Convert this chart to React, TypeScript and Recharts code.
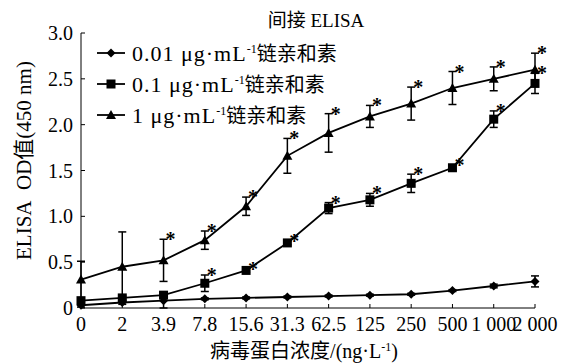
import React from 'react';
import { LineChart, Line, XAxis, YAxis, ErrorBar, Legend, LabelList } from 'recharts';

const categories = ['0', '2', '3.9', '7.8', '15.6', '31.3', '62.5', '125', '250', '500', '1 000', '2 000'];

const s001 = [0.03, 0.06, 0.08, 0.10, 0.11, 0.12, 0.13, 0.14, 0.15, 0.19, 0.24, 0.29];
const s001Err = [0.02, 0.02, 0.08, 0.01, 0.01, 0.01, 0.01, 0.01, 0.01, 0.01, 0.02, 0.06];

const s01 = [0.08, 0.11, 0.14, 0.27, 0.41, 0.71, 1.09, 1.18, 1.36, 1.53, 2.06, 2.45];
const s01Err = [0.02, 0.02, 0.03, 0.09, 0.02, 0.02, 0.06, 0.07, 0.10, 0.03, 0.09, 0.11];
const s01Star = [false, false, false, true, true, true, true, true, true, true, true, true];

const s1 = [0.31, 0.45, 0.52, 0.74, 1.11, 1.66, 1.91, 2.09, 2.23, 2.40, 2.50, 2.60];
const s1Err = [0.20, 0.38, 0.23, 0.10, 0.10, 0.19, 0.21, 0.12, 0.18, 0.18, 0.13, 0.18];
const s1Star = [false, false, true, true, true, true, true, true, true, true, true, true];

const yTicks = [0, 0.5, 1, 1.5, 2, 2.5, 3];
const yTickLabels = ['0', '0.5', '1.0', '1.5', '2.0', '2.5', '3.0'];

const FONT = "'Liberation Serif', 'Times New Roman', 'Noto Sans CJK SC', serif";

const data = categories.map((c, i) => ({
  i,
  cat: c,
  a: s001[i],
  aErr: s001Err[i],
  b: s01[i],
  bErr: s01Err[i],
  c: s1[i],
  cErr: s1Err[i],
  bStar: s01Star[i] ? s01[i] + s01Err[i] : null,
  cStar: s1Star[i] ? s1[i] + s1Err[i] : null,
}));

const Diamond = ({ cx, cy, s = 4.5 }: any) => (
  <polygon points={`${cx},${cy - s} ${cx + s},${cy} ${cx},${cy + s} ${cx - s},${cy}`} fill="#000" />
);
const Square = ({ cx, cy, s = 4.5 }: any) => (
  <rect x={cx - s} y={cy - s} width={2 * s} height={2 * s} fill="#000" />
);
const Triangle = ({ cx, cy, s = 5 }: any) => (
  <polygon points={`${cx},${cy - s} ${cx + s},${cy + s * 0.8} ${cx - s},${cy + s * 0.8}`} fill="#000" />
);

const dotA = (p: any) => <Diamond key={`a${p.index}`} cx={p.cx} cy={p.cy} />;
const dotB = (p: any) => <Square key={`b${p.index}`} cx={p.cx} cy={p.cy} />;
const dotC = (p: any) => <Triangle key={`c${p.index}`} cx={p.cx} cy={p.cy} />;

const renderStar = (p: any) => {
  if (p.value == null || p.x == null || p.y == null) return null;
  return (
    <text x={p.x + 2} y={p.y + 7} fontFamily={FONT} fontSize={20} fontWeight="bold" fill="#000">
      *
    </text>
  );
};

const XTick = (p: any) => {
  const { x, y, payload } = p;
  return (
    <g>
      <line x1={x} y1={y - 9} x2={x} y2={y - 13} stroke="#000" strokeWidth={1} />
      <text x={x} y={y} dy="0.71em" textAnchor="middle" fontFamily={FONT} fontSize={20} fill="#000">
        {categories[payload.value]}
      </text>
    </g>
  );
};

const YTick = (p: any) => {
  const { x, y, payload } = p;
  const idx = yTicks.indexOf(payload.value);
  return (
    <g>
      <line x1={x + 8} y1={y} x2={x + 12} y2={y} stroke="#000" strokeWidth={1} />
      <text x={x} y={y} dy="0.35em" textAnchor="end" fontFamily={FONT} fontSize={20} fill="#000">
        {idx >= 0 ? yTickLabels[idx] : payload.value}
      </text>
    </g>
  );
};

const legendItems = [
  { pre: '0.01 μg·mL', post: '链亲和素', Mark: Diamond },
  { pre: '0.1 μg·mL', post: '链亲和素', Mark: Square },
  { pre: '1 μg·mL', post: '链亲和素', Mark: Triangle },
];

const LegendContent = () => (
  <div style={{ fontFamily: FONT, fontSize: 22, color: '#000' }}>
    {legendItems.map((it, k) => (
      <div key={k} style={{ height: 31, display: 'flex', alignItems: 'center', whiteSpace: 'nowrap' }}>
        <svg width={34} height={14} style={{ marginRight: 3 }}>
          <line x1={2} y1={7} x2={30} y2={7} stroke="#000" strokeWidth={1.8} />
          <it.Mark cx={16} cy={7} />
        </svg>
        <span>
          <span style={{ letterSpacing: 1 }}>{it.pre}</span>
          <span style={{ fontSize: 12, verticalAlign: 8 }}>-1</span>
          <span style={{ fontSize: 20 }}>{it.post}</span>
        </span>
      </div>
    ))}
  </div>
);

export default function App() {
  return (
    <div style={{ position: 'absolute', left: 0, top: 0, width: 582, height: 363, background: '#fff' }}>
      <div
        style={{
          position: 'absolute',
          left: 0,
          width: 632,
          top: 5,
          textAlign: 'center',
          fontFamily: FONT,
          fontSize: 19,
          color: '#000',
        }}
      >
        间接 ELISA
      </div>
      <LineChart width={582} height={363} data={data} margin={{ top: 33, right: 47, bottom: 25, left: 0 }}>
        <XAxis
          dataKey="i"
          type="number"
          domain={[0, 11]}
          ticks={[0, 1, 2, 3, 4, 5, 6, 7, 8, 9, 10, 11]}
          allowDecimals={false}
          tickSize={0}
          tickMargin={9}
          tickLine={false}
          height={30}
          stroke="#000"
          tick={<XTick />}
          label={(props: any) => {
            const vb = props.viewBox || { x: 80, y: 308, width: 455, height: 30 };
            return (
              <text
                x={vb.x + vb.width / 2 - 4}
                y={vb.y + 50}
                textAnchor="middle"
                fontFamily={FONT}
                fontSize={20}
                fill="#000"
              >
                病毒蛋白浓度/(ng·L<tspan fontSize={12} dy={-7}>-1</tspan>
                <tspan dy={7}>)</tspan>
              </text>
            );
          }}
        />
        <YAxis
          type="number"
          domain={[0, 3]}
          ticks={yTicks}
          width={81}
          tickSize={0}
          tickMargin={8}
          tickLine={false}
          stroke="#000"
          tick={<YTick />}
          label={(props: any) => {
            const vb = props.viewBox || { x: 0, y: 33, width: 81, height: 275 };
            const cx = 24;
            const cy = vb.y + vb.height / 2 - 10;
            return (
              <text
                x={cx}
                y={cy}
                transform={`rotate(-90 ${cx} ${cy})`}
                textAnchor="middle"
                dominantBaseline="central"
                fontFamily={FONT}
                fontSize={21}
                fill="#000"
              >
                {'ELISA\u00A0\u00A0OD值(450 nm)'}
              </text>
            );
          }}
        />
        <Legend
          layout="vertical"
          align="center"
          verticalAlign="middle"
          wrapperStyle={{ left: 95, top: 37, width: 'auto', height: 'auto' }}
          content={<LegendContent />}
        />
        <Line dataKey="a" stroke="#000" strokeWidth={1.8} dot={dotA} activeDot={false} isAnimationActive={false}>
          <ErrorBar dataKey="aErr" width={4} stroke="#000" strokeWidth={1.5} direction="y" />
        </Line>
        <Line dataKey="b" stroke="#000" strokeWidth={1.8} dot={dotB} activeDot={false} isAnimationActive={false}>
          <ErrorBar dataKey="bErr" width={4} stroke="#000" strokeWidth={1.5} direction="y" />
        </Line>
        <Line dataKey="c" stroke="#000" strokeWidth={1.8} dot={dotC} activeDot={false} isAnimationActive={false}>
          <ErrorBar dataKey="cErr" width={4} stroke="#000" strokeWidth={1.5} direction="y" />
        </Line>
        <Line
          dataKey="bStar"
          stroke="none"
          dot={false}
          activeDot={false}
          legendType="none"
          isAnimationActive={false}
        >
          <LabelList dataKey="bStar" content={renderStar} />
        </Line>
        <Line
          dataKey="cStar"
          stroke="none"
          dot={false}
          activeDot={false}
          legendType="none"
          isAnimationActive={false}
        >
          <LabelList dataKey="cStar" content={renderStar} />
        </Line>
      </LineChart>
    </div>
  );
}
